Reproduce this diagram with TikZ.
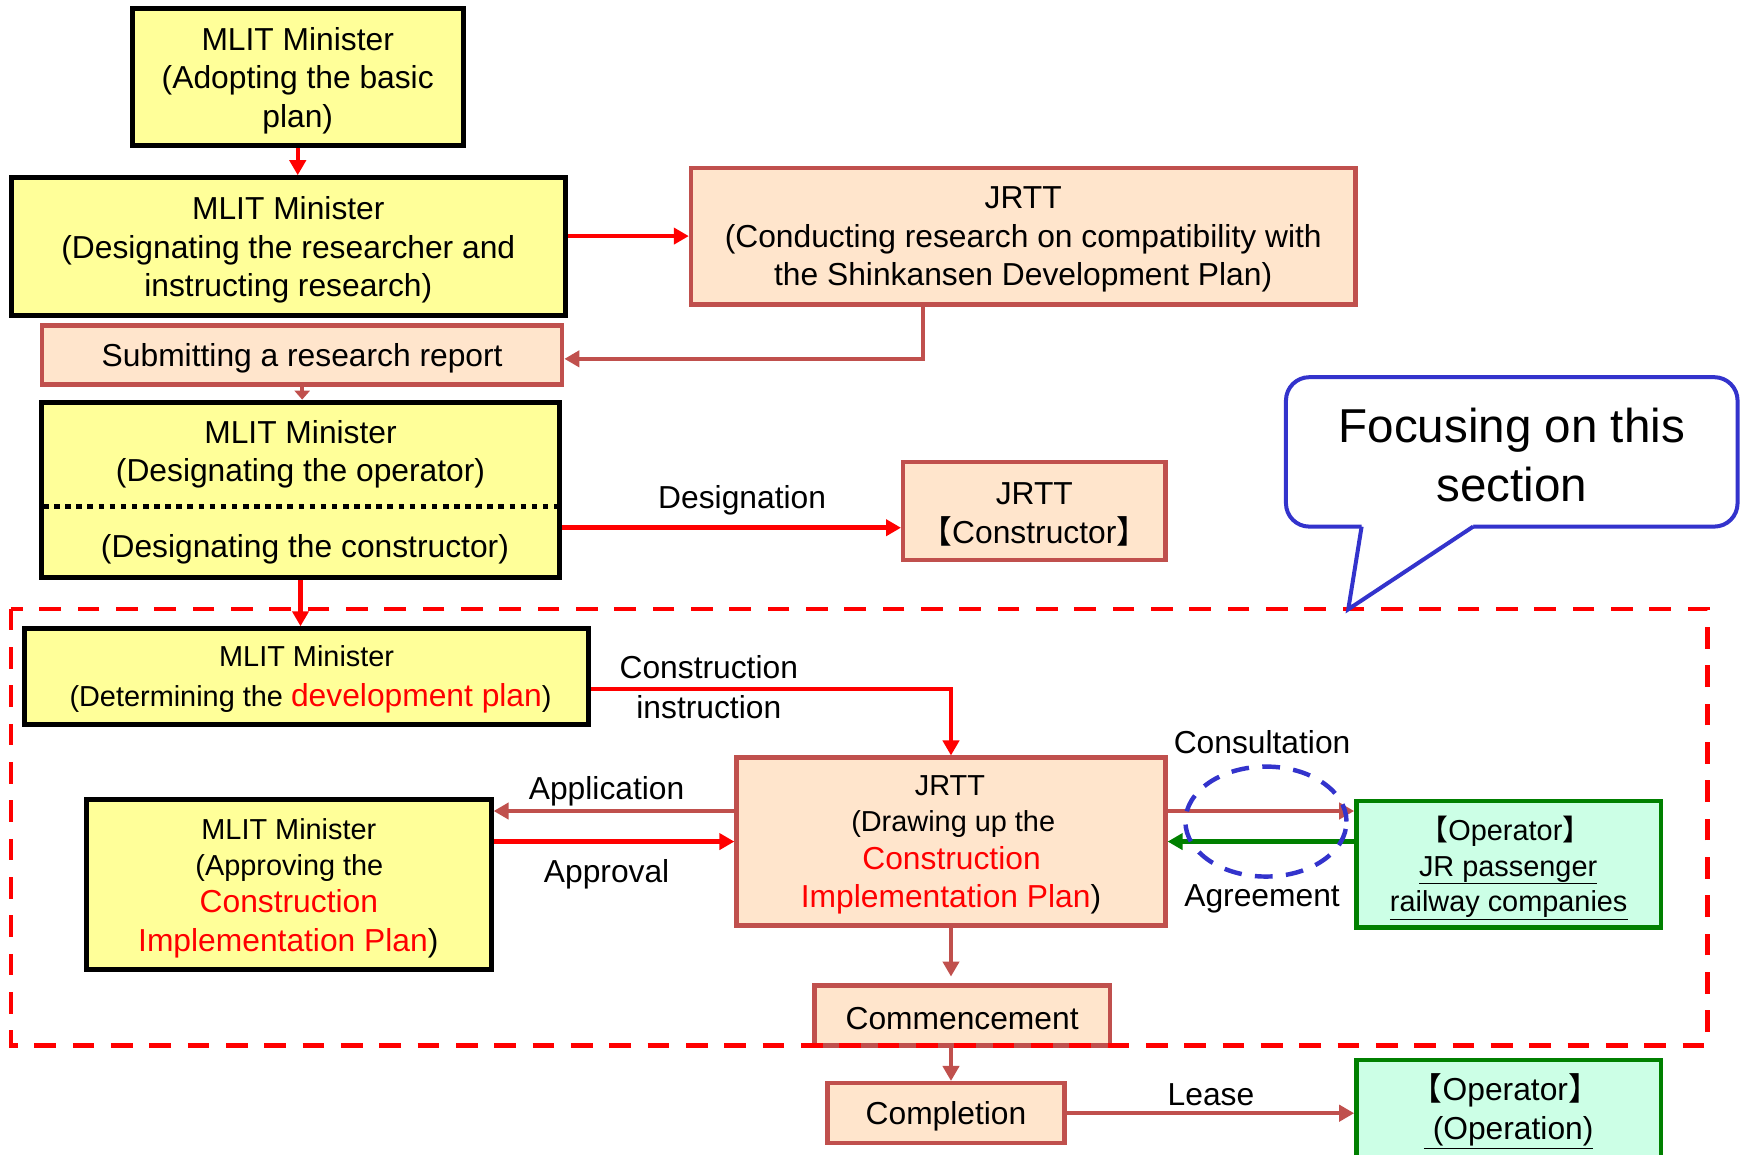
\documentclass[tikz,border=0pt]{standalone}
\usepackage{fontspec}
\setmainfont{Liberation Sans}
\newfontfamily\cjkfont{Noto Sans CJK JP}
\usetikzlibrary{arrows.meta,calc,shapes.geometric}
\definecolor{ylw}{HTML}{FFFF99}
\definecolor{pch}{HTML}{FFE5CC}
\definecolor{brn}{HTML}{C0504D}
\definecolor{grnfill}{HTML}{CCFFE6}
\definecolor{grn}{HTML}{008000}
\definecolor{blu}{HTML}{3333CC}
\definecolor{rd}{HTML}{FF0000}
\newcommand\fsA{\fontsize{28.6}{34.5}\selectfont}
\newcommand\fsB{\fontsize{26}{32}\selectfont}
\newcommand\fsC{\fontsize{42.8}{53}\selectfont}
\newcommand\Lbk{{\cjkfont 【}}
\newcommand\Rbk{{\cjkfont 】}}
\begin{document}
\begin{tikzpicture}[x=1pt,y=-1pt,
  ybox/.style={draw=black, fill=ylw, line width=4.6pt, inner sep=0pt},
  pbox/.style={draw=brn, fill=pch, line width=4pt, inner sep=0pt},
  gbox/.style={draw=grn, fill=grnfill, line width=4.2pt, inner sep=0pt},
  boxtxt/.style={inner sep=0pt, align=center, font=\fsA},
  txtA/.style={inner sep=0pt, anchor=base, font=\fsA},
  txtB/.style={inner sep=0pt, anchor=base, font=\fsB},
  redarr/.style={draw=rd, line width=4pt, -{Triangle[length=13.5pt,width=14.5pt]}},
  brnarr/.style={draw=brn, line width=4pt, -{Triangle[length=13.5pt,width=14.5pt]}},
  grnarr/.style={draw=grn, line width=4pt, -{Triangle[length=13.5pt,width=14.5pt]}}
]
\useasboundingbox (0,0) rectangle (1568,1039);
\clip (0,0) rectangle (1568,1039);

% boxes
\node[ybox, minimum width=298pt, minimum height=123pt] (A) at (268,69.5) {};
\node[boxtxt] (At) at ($(A)+(0,3)$) {MLIT Minister\\(Adopting the basic\\plan)};
\node[ybox, minimum width=499pt, minimum height=124pt] (B) at (259.5,222) {};
\node[boxtxt] (Bt) at ($(B)+(0,3)$) {MLIT Minister\\(Designating the researcher and\\instructing research)};
\node[pbox, minimum width=598pt, minimum height=123pt] (C) at (921,212.5) {};
\node[boxtxt] (Ct) at ($(C)+(0,3)$) {JRTT\\(Conducting research on compatibility with\\the Shinkansen Development Plan)};
\node[pbox, minimum width=468pt, minimum height=53pt] (D) at (272,319.5) {};
\node[boxtxt] (Dt) at ($(D)+(0,3)$) {Submitting a research report};
\node[ybox, minimum width=467pt, minimum height=158pt] (E) at (270.5,441) {};
\node[txtA] (E1) at (270.5,399) {MLIT Minister};
\node[txtA] (E2) at (270.5,433) {(Designating the operator)};
\node[txtA] (E3) at (274.5,502) {(Designating the constructor)};
\draw[black, line width=4pt, dash pattern=on 5pt off 5pt] ($(E.west)+(4,15)$) -- ($(E.east)+(-4,15)$);
\node[pbox, minimum width=236pt, minimum height=88pt] (F) at (931,460) {};
\node[boxtxt] (Ft) at ($(F)+(0,3)$) {JRTT\\\Lbk Constructor\Rbk};

\node[ybox, minimum width=508pt, minimum height=86pt] (G) at (276,609) {};
\node[txtB] (G1) at (276,600) {MLIT Minister};
\node[txtB] (G2) at (279.5,636) {(Determining the {\fsA\color{rd}development plan})};

\node[pbox, minimum width=386pt, minimum height=151pt] (H) at (856,757.5) {};
\node[txtB] (H1) at (855,716) {JRTT};
\node[txtB] (H2) at (858,748) {(Drawing up the};
\node[txtA, text=rd] (H3) at (856.5,783) {Construction};
\node[txtA] (H4) at (856,817) {{\color{rd}Implementation Plan})};

\node[ybox, minimum width=364pt, minimum height=153pt] (I) at (260,796.5) {};
\node[txtB] (I1) at (260,756) {MLIT Minister};
\node[txtB] (I2) at (260.5,788) {(Approving the};
\node[txtA, text=rd] (I3) at (260,821) {Construction};
\node[txtA] (I4) at (259.5,856) {{\color{rd}Implementation Plan})};

\node[gbox, minimum width=274pt, minimum height=114pt] (J) at (1358,778) {};
\node[txtB] (J1) at (1355,756.5) {\Lbk Operator\Rbk};
\node[txtB] (J2) at (1357.5,788.5) {\underline{JR passenger}};
\node[txtB] (J3) at (1358,820.5) {\underline{railway companies}};

\node[pbox, minimum width=266pt, minimum height=54pt] (K) at (866,914) {};
\node[boxtxt] (Kt) at ($(K)+(0,3)$) {Commencement};
\node[pbox, minimum width=213pt, minimum height=54pt] (L) at (851.5,1002) {};
\node[boxtxt] (Lt) at ($(L)+(0,3)$) {Completion};
\node[gbox, minimum width=274pt, minimum height=92pt] (M) at (1358,1000) {};
\node[txtA] (M1) at (1355,991) {\Lbk Operator\Rbk};
\node[txtA] (M2) at (1358,1026) {\underline{\ (Operation)}};

% connectors
\draw[redarr] (A.south) -- (A.south |- B.north);
\draw[redarr] (B.east |- C.west) -- (C.west);
\coordinate (rep) at ($(C.south west)!0.35!(C.south east)$);
\draw[brnarr] (rep) |- ($(D.east)+(0,3.5)$);
\draw[draw=brn, line width=4pt, -{Triangle[length=8pt,width=13.5pt]}] (D.south) -- (D.south |- E.north);
\coordinate (des) at ($(F.west)+(0,15)$);
\draw[redarr] (des -| E.east) -- (des);
\node[txtA] (lDes) at (668,458) {Designation};
\draw[redarr] (E.south) -- (E.south |- G.north);
\draw[redarr] ($(G.east)+(0,11)$) -| (H.north);
\node[txtA] (lCon1) at (638,611) {Construction};
\node[txtA] (lCon2) at (638,647) {instruction};
\coordinate (app) at ($(H.west)+(0,-27.5)$);
\draw[brnarr] (app) -- (app -| I.east);
\draw[redarr] (I.east |- H.west) -- (H.west);
\node[txtA] (lApp) at (546,720) {Application};
\node[txtA] (lApr) at (546,794) {Approval};
\coordinate (cons) at ($(H.east)+(0,-27.5)$);
\draw[brnarr] (cons) -- (cons -| J.west);
\draw[grnarr] (J.west |- H.east) -- (H.east);
\node[txtA] (lCons) at (1136,678) {Consultation};
\node[txtA] (lAgr) at (1136,816) {Agreement};
\draw[brnarr, shorten >=6pt] (H.south) -- (H.south |- K.north);
\draw[brnarr] (H.south |- K.south) -- (H.south |- L.north);
\draw[brnarr] (L.east) -- (L.east -| M.west);
\node[txtA] (lLease) at (1090,995) {Lease};

% focus area
\draw[rd, line width=4pt, dash pattern=on 19.5pt off 15pt] (10,548) rectangle (1537,941);
\node[draw=blu, line width=4pt, dash pattern=on 16pt off 12pt, ellipse, minimum width=145pt, minimum height=99pt, inner sep=0pt] (ell) at (1139.5,739.5) {};

% callout
\node[draw=blu, fill=white, line width=3.6pt, rounded corners=21pt, minimum width=406.5pt, minimum height=134.5pt, inner sep=0pt] (call) at (1360.75,406.75) {};
\node[boxtxt, font=\fsC] (callt) at ($(call)+(0,3)$) {Focusing on this\\section};
\coordinate (tipL) at (1225.6,474);
\coordinate (tipR) at (1326,474);
\coordinate (tip) at (1213.6,548.4);
\fill[white] (1225.6,470) -- (1326,470) -- (tipR) -- (tip) -- (tipL) -- cycle;
\draw[blu, line width=3.6pt, line join=miter] (tipL) -- (tip) -- (tipR);
\end{tikzpicture}
\end{document}
